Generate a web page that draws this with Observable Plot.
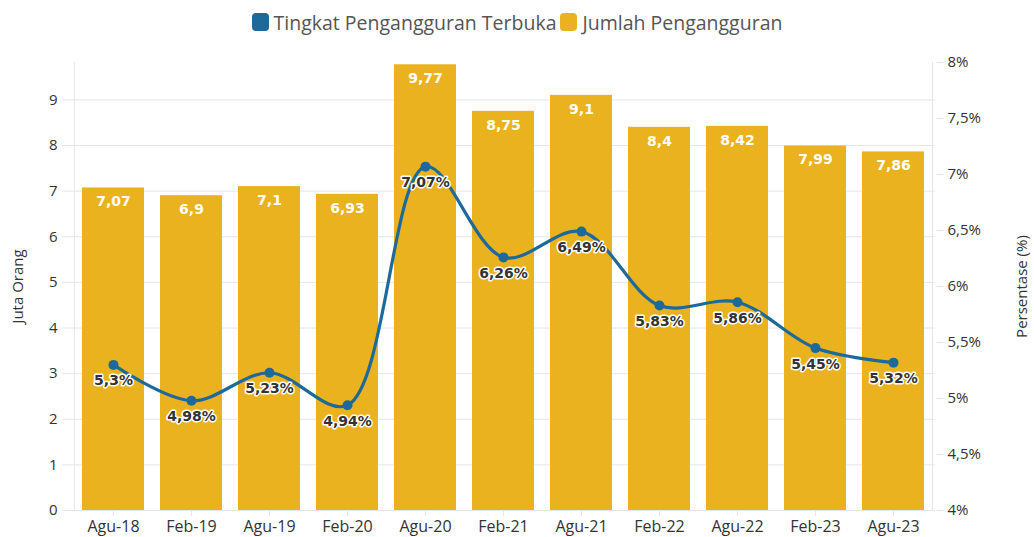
<!DOCTYPE html>
<html>
<head>
<meta charset="utf-8">
<script src="https://cdn.jsdelivr.net/npm/d3@7"></script>
<script src="https://cdn.jsdelivr.net/npm/@observablehq/plot@0.6"></script>
<style>
  body { margin: 0; background: #fff; font-family: "Open Sans", sans-serif; }
  #legend { height: 44px; display: flex; justify-content: center; align-items: center; gap: 4px; font-size: 19.5px; color: #555; padding-left: 0px; box-sizing: border-box; }
  #legend .item { display: flex; align-items: center; gap: 5px; }
  #legend .sw { width: 17px; height: 18px; border-radius: 4px; display: inline-block; }
</style>
</head>
<body>
<div id="legend"></div>
<div id="chart"></div>
<script>
const periods = ["Agu-18","Feb-19","Agu-19","Feb-20","Agu-20","Feb-21","Agu-21","Feb-22","Agu-22","Feb-23","Agu-23"];
const jumlah = [7.07, 6.9, 7.1, 6.93, 9.77, 8.75, 9.1, 8.4, 8.42, 7.99, 7.86];
const tpt = [5.3, 4.98, 5.23, 4.94, 7.07, 6.26, 6.49, 5.83, 5.86, 5.45, 5.32];
const leftTicks = [0,1,2,3,4,5,6,7,8,9];
const rightTicks = [4,4.5,5,5.5,6,6.5,7,7.5,8];
const seriesNames = ["Tingkat Pengangguran Terbuka", "Jumlah Pengangguran"];
const colors = ["#1d6a9a", "#ebb220"];

const leftMax = 9.82;
const pMin = 4, pMax = 8;
const toLeft = p => (p - pMin) / (pMax - pMin) * leftMax;
const fmt = v => String(v).replace(".", ",");

const legend = document.getElementById("legend");
seriesNames.forEach((n, i) => {
  const it = document.createElement("span");
  it.className = "item";
  it.innerHTML = `<span class="sw" style="background:${colors[i]}"></span><span>${n}</span>`;
  legend.appendChild(it);
});

const data = periods.map((p, i) => ({period: p, jumlah: jumlah[i], tpt: tpt[i], tptY: toLeft(tpt[i])}));
const grey = "#e6e6e6";
const labelFont = "DejaVu Sans, sans-serif";

const chart = Plot.plot({
  width: 1034,
  height: 493,
  marginTop: 18,
  marginBottom: 27,
  marginLeft: 72,
  marginRight: 99,
  style: {fontFamily: "Open Sans, sans-serif", fontSize: "15px", color: "#444"},
  x: {domain: periods, paddingInner: 0.2, paddingOuter: 0.1, label: null},
  y: {domain: [0, leftMax], label: null},
  marks: [
    Plot.gridY(leftTicks, {stroke: grey, strokeOpacity: 1}),
    Plot.ruleX([periods[0]], {dx: -39, stroke: grey}),
    Plot.ruleX([periods[periods.length - 1]], {dx: 39, stroke: grey}),
    Plot.barY(data, {x: "period", y: "jumlah", fill: colors[1]}),
    Plot.text(data, {x: "period", y: "jumlah", text: d => fmt(d.jumlah), dy: 14, fill: "white", fontWeight: "bold", fontSize: 14, fontFamily: labelFont}),
    Plot.line(data, {x: "period", y: "tptY", stroke: colors[0], strokeWidth: 3.2, curve: "catmull-rom"}),
    Plot.dot(data, {x: "period", y: "tptY", r: 5, fill: colors[0]}),
    Plot.text(data, {x: "period", y: "tptY", text: d => fmt(d.tpt) + "%", dy: 16, fill: "#333", stroke: "white", strokeWidth: 3, fontWeight: "bold", fontSize: 14, fontFamily: labelFont}),
    Plot.axisY({ticks: leftTicks, tickSize: 10, tickPadding: 5, stroke: grey, fill: "#333", fontSize: 15, label: null}),
    Plot.axisY({anchor: "right", ticks: rightTicks.map(toLeft), tickFormat: v => fmt(+(v / leftMax * (pMax - pMin) + pMin).toFixed(1)).replace(/,0$/, "") + "%", tickSize: 7, tickPadding: 5, stroke: grey, fill: "#333", fontSize: 15, label: null}),
    Plot.axisX({tickSize: 6, tickPadding: 4, stroke: grey, fill: "#333", fontSize: 16, label: null}),
    Plot.ruleY([0], {stroke: grey}),
    Plot.text(["Juta Orang"], {frameAnchor: "left", textAnchor: "middle", dx: -54, rotate: -90, fill: "#333", fontSize: 15}),
    Plot.text(["Persentase (%)"], {frameAnchor: "right", textAnchor: "middle", dx: 87, rotate: -90, fill: "#333", fontSize: 15})
  ]
});
document.getElementById("chart").appendChild(chart);
</script>
</body>
</html>
